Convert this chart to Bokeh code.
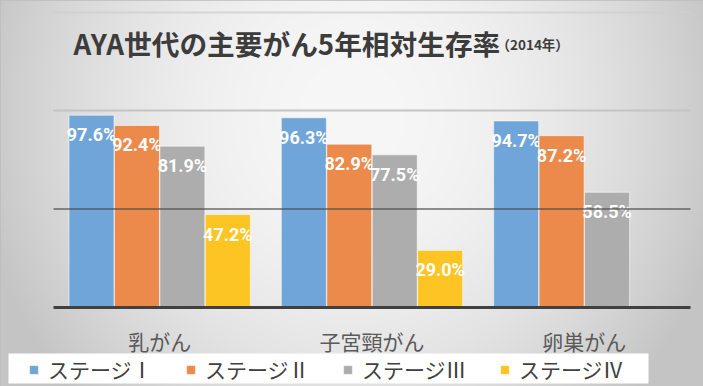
import numpy as np
from bokeh.plotting import figure
from bokeh.models import ColumnDataSource, Label, Legend, LegendItem, Range1d, BoxAnnotation
from bokeh.core.properties import value
from bokeh.embed import file_html
from bokeh.resources import INLINE

# ---- data ----
categories = ["乳がん", "子宮頸がん", "卵巣がん"]
series_names = ["ステージⅠ", "ステージⅡ", "ステージⅢ", "ステージⅣ"]
stage1 = [97.6, 96.3, 94.7]
stage2 = [92.4, 82.9, 87.2]
stage3 = [81.9, 77.5, 58.5]
stage4 = [47.2, 29.0, None]
gridlines = [50, 100]
title_text = "AYA世代の主要がん5年相対生存率"
subtitle_text = "（2014年）"

series = [stage1, stage2, stage3, stage4]
colors = ["#6fa5d8", "#ec8a4c", "#adadad", "#fcc524"]
offsets = [-0.321, -0.107, 0.107, 0.321]
bar_w = 0.212

CJK = "Noto Sans CJK JP"
W, H = 703, 386
n = len(categories)
# frame covers the whole canvas; plotting area is x 53..690, y(0)=307, y(100)=110
PL, PR, PY0, PY100 = 53, 690, 307, 110
ppu_x = (PR - PL) / n
ppu_y = (PY0 - PY100) / 100
x_start, x_end = -0.5 - PL / ppu_x, n - 0.5 + (W - PR) / ppu_x
y_start, y_end = -(H - PY0) / ppu_y, 100 + PY100 / ppu_y


def px2x(px):
    return x_start + px / ppu_x


def py2y(py):
    return y_end - py / ppu_y


p = figure(width=W, height=H,
           x_range=Range1d(x_start, x_end), y_range=Range1d(y_start, y_end),
           x_axis_location=None, y_axis_location=None, title=None,
           output_backend="svg", toolbar_location=None,
           min_border_left=0, min_border_right=0,
           min_border_top=0, min_border_bottom=0)
p.border_fill_color = "#dcdcdc"
p.background_fill_color = "#e0e0e0"
p.outline_line_color = "#bcbcbc"
p.outline_line_width = 5
p.xgrid.visible = False
p.ygrid.visible = False

# soft background gradient (decoration)
gw, gh = 352, 193
gx = np.linspace(-1, 1, gw)[None, :]
gy = np.linspace(1, 0, gh)[:, None]          # rows from bottom; 0 = top
dy = (gy - 0.3) / 0.7
v = 247 - 48 * (0.9 * gx ** 2 + 0.45 * dy ** 2)
v = np.clip(v, 196, 255).astype(np.uint32)
img = (255 << 24) | (v << 16) | (v << 8) | v
p.image_rgba(image=[img.astype(np.uint32)], x=x_start, y=y_start,
             dw=x_end - x_start, dh=y_end - y_start, level="image")

# thin decorative line near the top
p.segment(x0=[-0.5], x1=[n - 0.5], y0=[py2y(12)], y1=[py2y(12)],
          line_color="#d0d0d0", line_width=2, line_alpha=0.8)

# gridlines (span only the plotting area)
p.segment(x0=[-0.5], x1=[n - 0.5], y0=[gridlines[1]], y1=[gridlines[1]],
          line_color="#c4c4c4", line_width=2)

items = []
for name, vals, col, off in zip(series_names, series, colors, offsets):
    xs = [i + off for i, v_ in enumerate(vals) if v_ is not None]
    tops = [v_ for v_ in vals if v_ is not None]
    labels = ["%.1f%%" % v_ for v_ in tops]
    src = ColumnDataSource(dict(x=xs, top=tops, label=labels))
    r = p.vbar(x="x", top="top", width=bar_w, bottom=0, source=src,
               fill_color=col, line_color="white", line_alpha=0.55, line_width=1)
    items.append(LegendItem(label=name, renderers=[r]))
    p.text(x="x", y="top", text="label", source=src,
           text_color="white", text_font=value("Roboto"), text_font_style="bold",
           text_font_size="18px", text_align="center", text_baseline="top", y_offset=9)

p.segment(x0=[-0.5], x1=[n - 0.5], y0=[gridlines[0]], y1=[gridlines[0]],
          line_color="#4a4a4a", line_width=2, line_alpha=0.6)
p.segment(x0=[-0.5], x1=[n - 0.5], y0=[0], y1=[0], line_color="#404040", line_width=3)

# category labels under the baseline
cat_src = ColumnDataSource(dict(x=list(range(n)), y=[0] * n, label=categories))
p.text(x="x", y="y", text="label", source=cat_src, text_font=value(CJK),
       text_font_size="21px", text_color="#5a5a5a", text_align="center",
       text_baseline="middle", y_offset=33)

p.add_layout(Label(x=73, y=H - 42, x_units="screen", y_units="screen", text=title_text,
                   text_font=CJK, text_font_style="bold", text_font_size="27.7px",
                   text_color="#3c3c3c", text_baseline="middle"))
p.add_layout(Label(x=496, y=H - 43, x_units="screen", y_units="screen", text=subtitle_text,
                   text_font=CJK, text_font_style="bold", text_font_size="13.5px",
                   text_color="#3c3c3c", text_baseline="middle"))

# white legend panel
p.add_layout(BoxAnnotation(left=px2x(8), right=px2x(648), top=py2y(353), bottom=py2y(383),
                           fill_color="white", fill_alpha=1.0, line_alpha=0))

legend = Legend(items=items, location=(28, 2), orientation="horizontal",
                background_fill_alpha=0, border_line_alpha=0,
                padding=0, spacing=25, margin=0,
                glyph_width=11, glyph_height=11, label_standoff=9, label_width=112,
                label_text_font=CJK, label_text_font_size="21px",
                label_text_color="#404040")
p.add_layout(legend)

open("out.html", "w").write(file_html(p, INLINE))
